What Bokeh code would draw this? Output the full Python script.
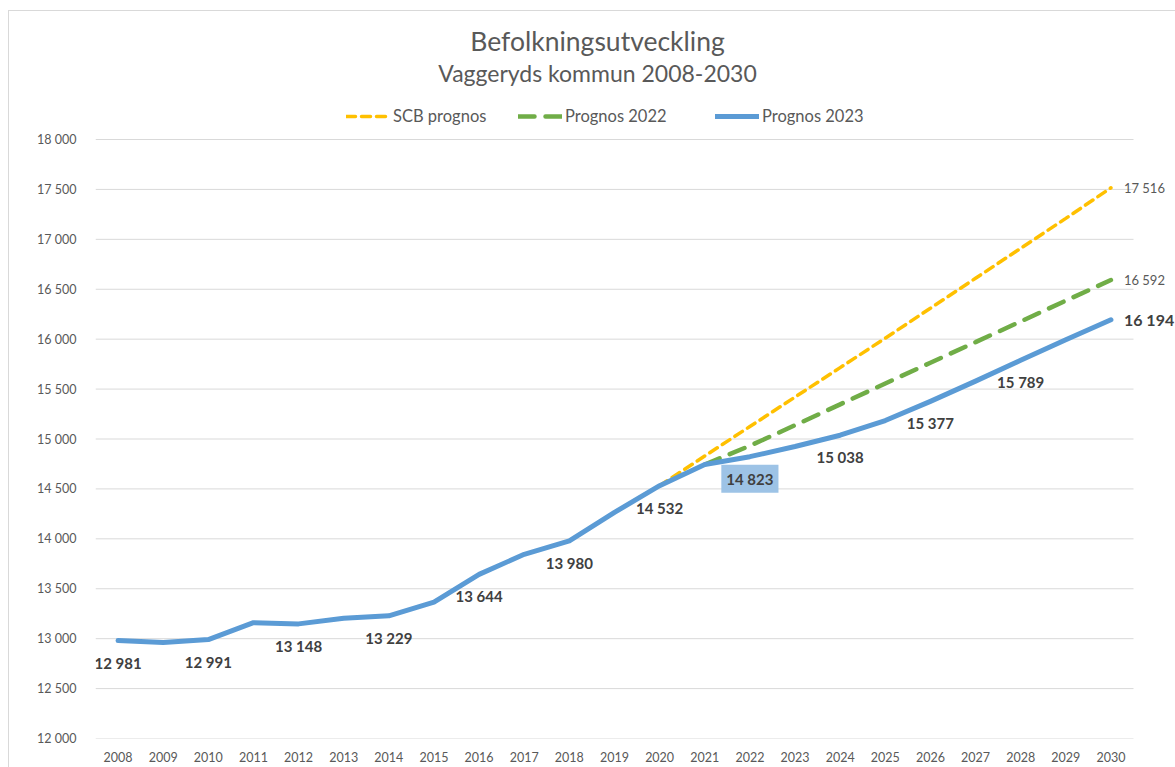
from bokeh.plotting import figure
from bokeh.models import (ColumnDataSource, Range1d, FixedTicker, LabelSet, Label,
                          Legend, LegendItem, InlineStyleSheet)
from bokeh.core.properties import value
from bokeh.embed import file_html
from bokeh.resources import INLINE

# ---------------- data ----------------
years = list(range(2008, 2031))
prognos_2023 = [12981, 12962, 12991, 13160, 13148, 13205, 13229, 13365, 13644, 13845,
                13980, 14265, 14532, 14745, 14823, 14925, 15038, 15185, 15377, 15580,
                15789, 15995, 16194]
scb_years = list(range(2020, 2031))
scb_prognos = [14532, 14830, 15125, 15420, 15715, 16010, 16310, 16610, 16910, 17210, 17516]
p22_years = list(range(2021, 2031))
prognos_2022 = [14745, 14932, 15138, 15347, 15556, 15764, 15970, 16177, 16386, 16592]
y_ticks = list(range(12000, 18001, 500))
title_text = "Befolkningsutveckling"
subtitle_text = "Vaggeryds kommun 2008-2030"
series_names = ["SCB prognos", "Prognos 2022", "Prognos 2023"]
highlight_year = 2022

FONT = "Lato"
GRAY = "#595959"
DARK = "#404040"
BLUE = "#5B9BD5"
YELLOW = "#FFC000"
GREEN = "#70AD47"


def fmt(v):
    return f"{v:,}".replace(",", " ")


# ---------------- layout ----------------
W, H = 1175, 767
LEFT, TOP, BOTTOM = 95, 10, 29          # frame: x 95..1175, y 10..738
plot_left_px, plot_right_px = 95, 1133  # visible plotting area (gridlines)
plot_top_px, plot_bottom_px = 139, 738
frame_w = W - LEFT
frame_h = H - TOP - BOTTOM

x0, x1 = years[0] - 0.5, years[-1] + 0.5
px_per_x = (plot_right_px - plot_left_px) / (x1 - x0)
y0, y1 = y_ticks[0], y_ticks[-1]
px_per_y = (plot_bottom_px - plot_top_px) / (y1 - y0)

p = figure(width=W, height=H, output_backend="svg", toolbar_location=None,
           x_range=Range1d(x0, x0 + frame_w / px_per_x),
           y_range=Range1d(y0, y0 + frame_h / px_per_y),
           min_border_left=LEFT, min_border_right=0, min_border_top=TOP,
           min_border_bottom=BOTTOM)
p.outline_line_color = None
p.background_fill_color = None
p.border_fill_color = None
p.stylesheets = [InlineStyleSheet(css=(
    ":host { background: "
    "linear-gradient(#D9D9D9, #D9D9D9) 8px 10px / 1px 100% no-repeat, "
    "linear-gradient(#D9D9D9, #D9D9D9) 8px 10px / 100% 1px no-repeat, white; }"))]

# axes
p.xaxis.ticker = FixedTicker(ticks=years)
p.yaxis.ticker = FixedTicker(ticks=y_ticks)
p.yaxis.major_label_overrides = {t: fmt(t) for t in y_ticks}
for ax in (p.xaxis[0], p.yaxis[0]):
    ax.axis_line_color = None
    ax.major_tick_line_color = None
    ax.minor_tick_line_color = None
    ax.major_label_text_font = FONT
    ax.major_label_text_color = GRAY
p.xaxis.major_label_text_font_size = "12.5px"
p.yaxis.major_label_text_font_size = "12.5px"
p.yaxis.major_label_standoff = 13
p.xaxis.major_label_standoff = 7
p.xgrid.visible = False
p.ygrid.visible = False

# horizontal gridlines only across the plotting area
p.segment(x0=[x0] * len(y_ticks), x1=[x1] * len(y_ticks), y0=y_ticks, y1=y_ticks,
          line_color="#D9D9D9", line_width=1)

# series
r_scb = p.line(scb_years, scb_prognos, line_color=YELLOW, line_width=3.5, line_dash="9 6",
               line_cap="round")
r_22 = p.line(p22_years, prognos_2022, line_color=GREEN, line_width=4.5, line_dash="16 11",
              line_cap="round")
r_23 = p.line(years, prognos_2023, line_color=BLUE, line_width=5, line_cap="round",
              line_join="round")

# data labels (every second year, below the point)
lab_years = [y for y in years[::2] if y not in (years[-1], highlight_year)]
lab_vals = [prognos_2023[years.index(y)] for y in lab_years]
src_lab = ColumnDataSource(dict(x=lab_years, y=lab_vals, t=[fmt(v) for v in lab_vals]))
p.add_layout(LabelSet(source=src_lab, x="x", y="y", text="t", y_offset=-22,
                      text_align="center", text_baseline="middle",
                      text_font=value(FONT), text_font_style="bold",
                      text_font_size="15px", text_color=DARK))
hv = prognos_2023[years.index(highlight_year)]
p.add_layout(Label(x=highlight_year, y=hv, text=fmt(hv), y_offset=-22,
                   text_align="center", text_baseline="middle",
                   text_font=FONT, text_font_style="bold",
                   text_font_size="15px", text_color=DARK,
                   background_fill_color="#9DC3E6", padding=5))

# end labels
src_end23 = ColumnDataSource(dict(x=[years[-1]], y=[prognos_2023[-1]], t=[fmt(prognos_2023[-1])]))
p.add_layout(LabelSet(source=src_end23, x="x", y="y", text="t", x_offset=13,
                      text_align="left", text_baseline="middle",
                      text_font=value(FONT), text_font_style="bold",
                      text_font_size="16px", text_color=DARK))
src_end = ColumnDataSource(dict(x=[scb_years[-1], p22_years[-1]],
                                y=[scb_prognos[-1], prognos_2022[-1]],
                                t=[fmt(scb_prognos[-1]), fmt(prognos_2022[-1])]))
p.add_layout(LabelSet(source=src_end, x="x", y="y", text="t", x_offset=13,
                      text_align="left", text_baseline="middle",
                      text_font=value(FONT), text_font_size="13px", text_color=GRAY))

# titles (screen units: relative to frame bottom-left, y up)
fb = H - BOTTOM  # frame bottom in page px
p.add_layout(Label(x=597 - LEFT, y=fb - 40, x_units="screen", y_units="screen",
                   text=title_text, text_align="center", text_baseline="middle",
                   text_font=FONT, text_font_size="26.5px", text_color=GRAY))
p.add_layout(Label(x=597 - LEFT, y=fb - 72, x_units="screen", y_units="screen",
                   text=subtitle_text, text_align="center", text_baseline="middle",
                   text_font=FONT, text_font_size="23px", text_color=GRAY))

# legends (one per item, placed like the original; location = bottom-left)
for r, name, lx in zip([r_scb, r_22, r_23], series_names, [346, 518, 715]):
    lg = Legend(items=[LegendItem(label=name, renderers=[r])],
                location=(lx - LEFT, fb - 126),
                orientation="horizontal", glyph_width=44, glyph_height=20, label_height=20,
                label_standoff=3, padding=0, margin=0, border_line_color=None,
                background_fill_alpha=0, label_text_font=FONT, label_text_font_size="16.5px",
                label_text_color=GRAY)
    p.add_layout(lg, "center")

open("out.html", "w").write(file_html(p, INLINE))
